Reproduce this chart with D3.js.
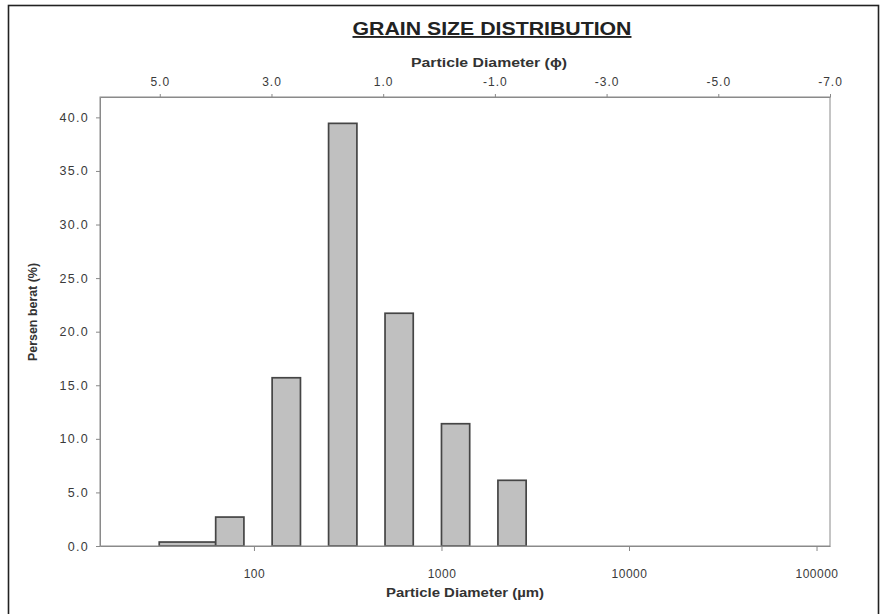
<!DOCTYPE html>
<html lang="en">
<head>
<meta charset="utf-8">
<title>Grain Size Distribution</title>
<script src="https://d3js.org/d3.v7.min.js"></script>
<style type="text/css">
body {
    margin: 0;
    background: #fff;
}
text {
    font-family: "Liberation Sans", Arial, sans-serif;
}
.tick text {
    fill: #3a3a3a;
}
.xaxis .tick text { font-size: 12px; letter-spacing: 0.5px; }
.phiaxis .tick text { font-size: 12px; letter-spacing: 1px; }
.yaxis .tick text { font-size: 12.5px; letter-spacing: 1.3px; }
</style>
</head>
<body>
<div id="chart"></div>
<script>
// data
var sizeLow  = [31.25, 62.5, 125, 250, 500, 1000, 2000];   // bar start (um)
var sizeHigh = [62.5, 88.4, 177, 354, 707, 1414, 2828];    // bar end (um)
var percent  = [0.37, 2.70, 15.70, 39.44, 21.72, 11.41, 6.13];
var umTicks  = [100, 1000, 10000, 100000];
var phiTicks = [5, 3, 1, -1, -3, -5, -7];
var yTicks   = [0, 5, 10, 15, 20, 25, 30, 35, 40];

var W = 881, H = 614;
var margin = {top: 97, right: 51, bottom: 68, left: 100},
    width = W - margin.left - margin.right,
    height = H - margin.top - margin.bottom;

var svg = d3.select("#chart")
  .append("svg")
    .attr("width", W)
    .attr("height", H);

// outer frame of the picture
svg.append("rect")
  .attr("x", 8.5).attr("y", 5.5)
  .attr("width", 870).attr("height", 620)
  .attr("fill", "none")
  .attr("stroke", "#222")
  .attr("stroke-width", 1.6);

var g = svg.append("g")
  .attr("transform", "translate(" + margin.left + "," + margin.top + ")");

// scales
var x = d3.scaleLog()
  .domain([15.1, 118000])
  .range([0, width]);

var phi = d3.scaleLinear()
  .domain([6.07, -7])
  .range([0, width]);

var y = d3.scaleLinear()
  .domain([0, 41.9])
  .range([height, 0]);

// bars
var bars = sizeLow.map(function(d, i) {
  return {lo: d, hi: sizeHigh[i], v: percent[i]};
});

g.selectAll("rect.bar")
  .data(bars)
  .enter()
  .append("rect")
    .attr("class", "bar")
    .attr("x", function(d) { return x(d.lo); })
    .attr("y", function(d) { return y(d.v); })
    .attr("width", function(d) { return x(d.hi) - x(d.lo); })
    .attr("height", function(d) { return y(0) - y(d.v); })
    .attr("fill", "#c0c0c0")
    .attr("stroke", "#454545")
    .attr("stroke-width", 1.7);

// plot frame
g.append("rect")
  .attr("x", 0).attr("y", 0)
  .attr("width", width).attr("height", height)
  .attr("fill", "none")
  .attr("stroke", "#8a8a8a")
  .attr("stroke-width", 1);

// bottom axis (um)
g.append("g")
  .attr("class", "xaxis")
  .attr("transform", "translate(0," + height + ")")
  .call(d3.axisBottom(x)
    .tickValues(umTicks)
    .tickFormat(function(d) { return d; })
    .tickSize(5)
    .tickSizeOuter(0)
    .tickPadding(18));

// top axis (phi)
g.append("g")
  .attr("class", "phiaxis")
  .call(d3.axisTop(phi)
    .tickValues(phiTicks)
    .tickFormat(function(d) { return d.toFixed(1); })
    .tickSize(3)
    .tickSizeOuter(0)
    .tickPadding(8));

// left axis
g.append("g")
  .attr("class", "yaxis")
  .call(d3.axisLeft(y)
    .tickValues(yTicks)
    .tickFormat(function(d) { return d.toFixed(1); })
    .tickSize(4)
    .tickSizeOuter(0)
    .tickPadding(7));

g.selectAll(".domain").attr("stroke", "#8a8a8a");
g.selectAll(".tick line").attr("stroke", "#888");

// titles
svg.append("text")
  .attr("x", 492).attr("y", 35)
  .attr("text-anchor", "middle")
  .attr("textLength", 279)
  .attr("lengthAdjust", "spacingAndGlyphs")
  .style("font-size", "19px")
  .style("font-weight", "bold")
  .style("text-decoration", "underline")
  .attr("fill", "#222")
  .text("GRAIN SIZE DISTRIBUTION");

svg.append("text")
  .attr("x", 489).attr("y", 67)
  .attr("text-anchor", "middle")
  .attr("textLength", 156)
  .attr("lengthAdjust", "spacingAndGlyphs")
  .style("font-size", "12px")
  .style("font-weight", "bold")
  .attr("fill", "#333")
  .text("Particle Diameter (\u03d5)");

svg.append("text")
  .attr("x", 465).attr("y", 597)
  .attr("text-anchor", "middle")
  .attr("textLength", 158)
  .attr("lengthAdjust", "spacingAndGlyphs")
  .style("font-size", "12px")
  .style("font-weight", "bold")
  .attr("fill", "#333")
  .text("Particle Diameter (\u00b5m)");

svg.append("text")
  .attr("transform", "translate(37,312) rotate(-90)")
  .attr("text-anchor", "middle")
  .attr("textLength", 98)
  .attr("lengthAdjust", "spacingAndGlyphs")
  .style("font-size", "12px")
  .style("font-weight", "bold")
  .attr("fill", "#333")
  .text("Persen berat (%)");
</script>
</body>
</html>
